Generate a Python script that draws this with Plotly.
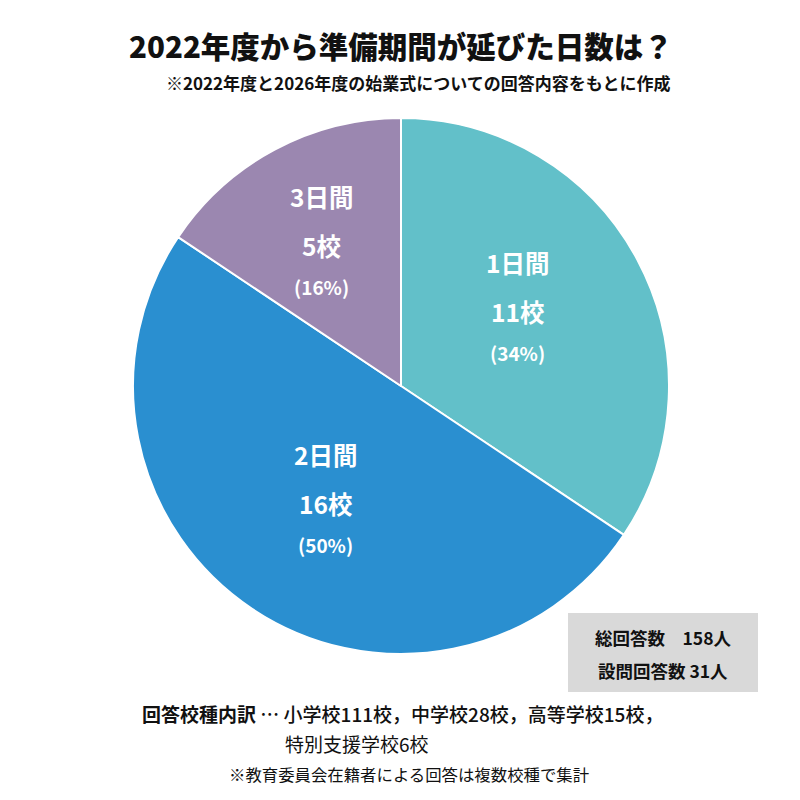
import math
import plotly.graph_objects as go

labels = ["1日間", "2日間", "3日間"]
counts = [11, 16, 5]
percents = [34, 50, 16]
colors = ["#62C0C9", "#2A8FD0", "#9B87B0"]

title = "2022年度から準備期間が延びた日数は？"
subtitle = "※2022年度と2026年度の始業式についての回答内容をもとに作成"
box_lines = ["総回答数　158人", "設問回答数 31人"]
note1a = "回答校種内訳"
note1b = " … 小学校111校，中学校28校，高等学校15校，"
note2 = "特別支援学校6校"
note3 = "※教育委員会在籍者による回答は複数校種で集計"

W = H = 800
cx, cy, R = 401, 386, 268
FONT = "Noto Sans CJK JP"

fig = go.Figure(go.Pie(
    labels=labels, values=counts, sort=False, direction="clockwise", rotation=0,
    marker=dict(colors=colors, line=dict(color="white", width=2)),
    textinfo="none", hoverinfo="label+value+percent", showlegend=False,
    domain=dict(x=[(cx - R) / W, (cx + R) / W], y=[1 - (cy + R) / H, 1 - (cy - R) / H]),
))

ann = []
def px(x): return x / W
def py(y): return 1 - y / H

total = sum(counts)
start = 0.0
rfrac = [0.55, 0.53, 0.60]
nudge = [(-13, -7), (3, -3), (-4, -1)]
for i, c in enumerate(counts):
    frac = c / total
    mid = (start + frac / 2) * 2 * math.pi
    start += frac
    r = rfrac[i] * R
    tx = cx + r * math.sin(mid) + nudge[i][0]
    ty = cy - r * math.cos(mid) + nudge[i][1]
    for dy, txt, size in [(-47, labels[i], 24.5), (2, f"{c}校", 24.5), (43, f"({percents[i]}%)", 19)]:
        ann.append(dict(x=px(tx), y=py(ty + dy), xref="paper", yref="paper", text=f"<b>{txt}</b>",
                        showarrow=False, font=dict(family=FONT, size=size, color="white"),
                        xanchor="center", yanchor="middle"))

ann.append(dict(x=px(401), y=py(45), xref="paper", yref="paper",
                text=f"<span style='font-weight:900'>{title}</span>", showarrow=False,
                font=dict(family=FONT, size=29.5, color="#111"), xanchor="center", yanchor="middle"))
ann.append(dict(x=px(418), y=py(82), xref="paper", yref="paper", text=f"<b>{subtitle}</b>", showarrow=False,
                font=dict(family=FONT, size=17, color="#111"), xanchor="center", yanchor="middle"))
for y, t in zip([637, 670], box_lines):
    ann.append(dict(x=px(663), y=py(y), xref="paper", yref="paper", text=f"<b>{t}</b>", showarrow=False,
                    font=dict(family=FONT, size=17.5, color="#111"), xanchor="center", yanchor="middle"))
ann.append(dict(x=px(140), y=py(713), xref="paper", yref="paper",
                text=f"<b>{note1a}</b><span style='font-weight:500'>{note1b}</span>", showarrow=False,
                font=dict(family=FONT, size=19, color="#111"), xanchor="left", yanchor="middle"))
ann.append(dict(x=px(283), y=py(743), xref="paper", yref="paper", text=note2, showarrow=False,
                font=dict(family=FONT, size=19, color="#111"), xanchor="left", yanchor="middle"))
ann.append(dict(x=px(409), y=py(774), xref="paper", yref="paper", text=note3, showarrow=False,
                font=dict(family=FONT, size=16.4, color="#111"), xanchor="center", yanchor="middle"))

fig.update_layout(
    width=W, height=H, margin=dict(l=0, r=0, t=0, b=0),
    paper_bgcolor="white", plot_bgcolor="white", annotations=ann,
    shapes=[dict(type="rect", xref="paper", yref="paper", x0=px(568), x1=px(758), y0=py(692), y1=py(613),
                 fillcolor="#D9D9D9", line=dict(width=0), layer="below")],
)
fig.write_html("out.html")
